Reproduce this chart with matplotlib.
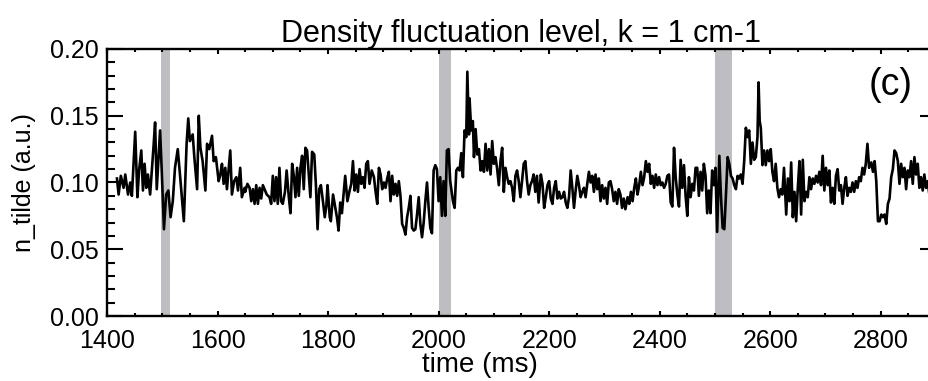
import matplotlib
matplotlib.use("Agg")
import matplotlib.pyplot as plt
from matplotlib.ticker import MultipleLocator

plt.rcParams['font.family'] = ['Liberation Sans', 'DejaVu Sans']

# time (ms) and fluctuation level
t_ms = [1418, 1421, 1425, 1430, 1433, 1438, 1442, 1445, 1451, 1455, 1458, 1462, 1465, 1468,
        1471, 1474, 1478, 1484, 1487, 1490, 1496, 1499, 1503, 1507, 1511, 1515, 1519, 1523,
        1528, 1532, 1539, 1544, 1547, 1550, 1555, 1558, 1563, 1566, 1569, 1573, 1578, 1581,
        1585, 1590, 1593, 1597, 1602, 1605, 1608, 1611, 1614, 1617, 1623, 1626, 1630, 1634,
        1637, 1641, 1644, 1649,
        1650, 1654, 1658, 1661, 1664, 1667, 1670, 1673, 1676, 1679, 1682, 1685, 1689, 1694,
        1697, 1700, 1703, 1706, 1709, 1712, 1715, 1718, 1722, 1725, 1729, 1732, 1735, 1738,
        1741, 1744, 1747, 1750, 1753, 1756, 1759, 1762, 1765, 1768, 1771, 1775, 1778, 1781,
        1784, 1787, 1791, 1794, 1797, 1799, 1803, 1805, 1809, 1813, 1816, 1819, 1822, 1825,
        1828, 1831, 1835, 1839, 1842, 1845, 1848, 1851, 1854, 1857, 1860, 1863, 1866, 1869,
        1872, 1875, 1879, 1883, 1886, 1889, 1892, 1895,
        1898, 1901, 1904, 1907, 1910, 1913, 1916, 1919, 1922, 1925, 1928, 1931, 1934, 1937,
        1940, 1943, 1946, 1949, 1952, 1955, 1958, 1961, 1964, 1967, 1970, 1973, 1976, 1979,
        1982, 1985, 1988, 1991, 1994, 1997, 2000, 2003, 2006, 2009, 2012, 2015, 2018, 2021,
        2026, 2029, 2032, 2035, 2038, 2041, 2044, 2047, 2050, 2052, 2055, 2056, 2059, 2062,
        2064, 2067, 2070, 2073, 2076, 2079, 2082, 2085, 2088, 2091, 2094, 2097, 2100, 2103,
        2106, 2109, 2112, 2115, 2118, 2121, 2124, 2127, 2130, 2133, 2136,
        2139, 2142, 2145, 2148, 2151, 2154, 2157, 2160, 2163, 2166, 2169, 2172, 2175, 2178,
        2181, 2185, 2188, 2191, 2194, 2197, 2200, 2203, 2206, 2209, 2212, 2215, 2218, 2221,
        2224, 2227, 2230, 2233, 2236, 2239, 2242, 2245, 2248, 2251, 2254, 2257, 2260, 2263,
        2266, 2269, 2272, 2275, 2278, 2281, 2284, 2287, 2290, 2293, 2296, 2299, 2302, 2305,
        2308, 2311, 2314, 2317, 2320, 2323, 2326, 2329, 2332, 2335, 2338, 2342, 2345, 2348,
        2351, 2354, 2357, 2360, 2363, 2366, 2369, 2372, 2375, 2378, 2381, 2384,
        2387, 2390, 2393, 2396, 2399, 2402, 2405, 2408, 2411, 2414, 2417, 2420, 2423, 2426,
        2429, 2432, 2435, 2438, 2441, 2444, 2447, 2450, 2453, 2456, 2459, 2462, 2465, 2468,
        2471, 2474, 2477, 2480, 2483, 2486, 2489, 2492, 2495, 2498, 2501, 2504, 2508, 2511,
        2514, 2517, 2520, 2523, 2526, 2529, 2532, 2535, 2538, 2541, 2544, 2547, 2550, 2553,
        2556, 2559, 2562, 2565, 2568, 2571, 2574, 2577, 2579, 2581, 2583, 2586, 2589, 2592,
        2595, 2598, 2601, 2604, 2607, 2610, 2613, 2616, 2619, 2622, 2625,
        2629, 2632, 2635, 2638, 2641, 2644, 2647, 2650, 2653, 2656, 2659, 2662, 2665, 2668,
        2671, 2674, 2677, 2680, 2683, 2686, 2689, 2692, 2695, 2698, 2701, 2704, 2707, 2710,
        2713, 2716, 2719, 2722, 2725, 2728, 2731, 2734, 2737, 2740, 2743, 2746, 2749, 2752,
        2755, 2758, 2761, 2764, 2767, 2770, 2773, 2776, 2779, 2783, 2786, 2789, 2792, 2795,
        2798, 2801, 2804, 2807, 2810, 2813, 2816, 2819, 2822, 2825, 2828, 2831, 2834, 2837,
        2840, 2843, 2846, 2849, 2852, 2855, 2858, 2861, 2864, 2867, 2870, 2873, 2876, 2879,
        2882, 2885, 2888]

n_tilde = [0.103, 0.091, 0.105, 0.096, 0.106, 0.091, 0.100, 0.090, 0.138, 0.089, 0.109, 0.124,
           0.094, 0.114, 0.096, 0.106, 0.091, 0.126, 0.145, 0.095, 0.139, 0.109, 0.065, 0.091,
           0.094, 0.074, 0.086, 0.111, 0.125, 0.106, 0.071, 0.129, 0.148, 0.131, 0.136, 0.119,
           0.095, 0.150, 0.126, 0.116, 0.094, 0.129, 0.125, 0.135, 0.116, 0.119, 0.101, 0.106,
           0.114, 0.099, 0.111, 0.095, 0.124, 0.091, 0.101, 0.104, 0.094, 0.111, 0.089, 0.096,
           0.093, 0.099, 0.096, 0.086, 0.095, 0.084, 0.098, 0.084, 0.096, 0.088, 0.098, 0.095,
           0.091, 0.089, 0.084, 0.105, 0.086, 0.104, 0.084, 0.111, 0.086, 0.084, 0.093, 0.109,
           0.089, 0.077, 0.114, 0.105, 0.089, 0.111, 0.090, 0.111, 0.120, 0.095, 0.126, 0.124,
           0.107, 0.089, 0.123, 0.121, 0.098, 0.065, 0.095, 0.098, 0.085, 0.074, 0.083, 0.098,
           0.074, 0.071, 0.091, 0.081, 0.074, 0.064, 0.085, 0.077, 0.091, 0.105, 0.086, 0.094,
           0.099, 0.116, 0.094, 0.106, 0.093, 0.110, 0.099, 0.104, 0.096, 0.114, 0.116, 0.099,
           0.109, 0.104, 0.093, 0.084, 0.111, 0.106,
           0.095, 0.100, 0.096, 0.103, 0.108, 0.086, 0.105, 0.091, 0.099, 0.090, 0.101, 0.090,
           0.069, 0.066, 0.061, 0.074, 0.081, 0.090, 0.066, 0.064, 0.065, 0.076, 0.089, 0.069,
           0.059, 0.070, 0.086, 0.100, 0.081, 0.066, 0.062, 0.109, 0.113, 0.110, 0.086, 0.104,
           0.075, 0.101, 0.075, 0.124, 0.125, 0.101, 0.086, 0.081, 0.109, 0.111, 0.109, 0.122,
           0.104, 0.139, 0.134, 0.183, 0.136, 0.163, 0.139, 0.146, 0.119, 0.140, 0.121, 0.125,
           0.109, 0.116, 0.108, 0.129, 0.109, 0.125, 0.106, 0.131, 0.114, 0.119, 0.110, 0.098,
           0.116, 0.126, 0.093, 0.111, 0.104, 0.099, 0.101, 0.096, 0.086,
           0.105, 0.109, 0.101, 0.089, 0.101, 0.114, 0.116, 0.101, 0.091, 0.098, 0.101, 0.106,
           0.093, 0.105, 0.085, 0.106, 0.099, 0.081, 0.089, 0.098, 0.101, 0.088, 0.084, 0.096,
           0.101, 0.088, 0.093, 0.088, 0.089, 0.093, 0.085, 0.081, 0.089, 0.109, 0.096, 0.081,
           0.094, 0.105, 0.098, 0.089, 0.093, 0.096, 0.089, 0.099, 0.108, 0.100, 0.105, 0.093,
           0.106, 0.095, 0.103, 0.086, 0.098, 0.088, 0.096, 0.084, 0.100, 0.101, 0.095, 0.086,
           0.093, 0.084, 0.095, 0.091, 0.081, 0.088, 0.080, 0.089, 0.084, 0.093, 0.086, 0.096,
           0.103, 0.091, 0.098, 0.108, 0.098, 0.104, 0.116, 0.108, 0.114, 0.099,
           0.105, 0.096, 0.106, 0.098, 0.104, 0.098, 0.100, 0.096, 0.099, 0.105, 0.106, 0.085,
           0.082, 0.126, 0.104, 0.091, 0.082, 0.117, 0.096, 0.113, 0.090, 0.075, 0.104, 0.089,
           0.099, 0.094, 0.111, 0.111, 0.090, 0.108, 0.094, 0.114, 0.105, 0.077, 0.094, 0.077,
           0.109, 0.098, 0.111, 0.063, 0.120, 0.089, 0.066, 0.065, 0.091, 0.119, 0.114, 0.105,
           0.103, 0.098, 0.095, 0.105, 0.103, 0.106, 0.099, 0.116, 0.141, 0.134, 0.139, 0.114,
           0.130, 0.117, 0.119, 0.134, 0.175, 0.146, 0.141, 0.113, 0.124, 0.113, 0.124, 0.116,
           0.125, 0.108, 0.101, 0.114, 0.096, 0.089, 0.095, 0.091, 0.111,
           0.076, 0.103, 0.086, 0.115, 0.074, 0.093, 0.071, 0.096, 0.116, 0.076, 0.117, 0.086,
           0.093, 0.089, 0.104, 0.095, 0.103, 0.099, 0.105, 0.100, 0.108, 0.098, 0.120, 0.094,
           0.111, 0.098, 0.109, 0.085, 0.096, 0.084, 0.105, 0.110, 0.094, 0.098, 0.084, 0.096,
           0.104, 0.090, 0.096, 0.093, 0.100, 0.093, 0.101, 0.096, 0.104, 0.101, 0.111, 0.106,
           0.114, 0.129, 0.111, 0.115, 0.108, 0.116, 0.101, 0.071, 0.071, 0.076, 0.074, 0.076,
           0.069, 0.084, 0.088, 0.104, 0.110, 0.124, 0.122, 0.116, 0.099, 0.114, 0.104, 0.111,
           0.095, 0.109, 0.104, 0.116, 0.099, 0.119, 0.106, 0.114, 0.096, 0.104, 0.094, 0.106,
           0.096, 0.101, 0.091]

# shaded time windows (ms)
band_start = [1498, 2000, 2500]
band_end = [1514, 2022, 2531]

fig = plt.figure(figsize=(9.29, 3.81), dpi=100)
ax = fig.add_axes([0.1152, 0.1706, 0.8923, 0.7008])

for b0, b1 in zip(band_start, band_end):
    ax.axvspan(b0, b1, color='#bdbdc2', lw=0, zorder=1)

ax.plot(t_ms, n_tilde, color='black', lw=1.9, zorder=3)

ax.set_xlim(1400, 2900)
ax.set_ylim(0, 0.2)
ax.xaxis.set_major_locator(MultipleLocator(200))
ax.xaxis.set_minor_locator(MultipleLocator(50))
ax.yaxis.set_major_locator(MultipleLocator(0.05))
ax.yaxis.set_minor_locator(MultipleLocator(0.01))
ax.yaxis.set_major_formatter(plt.FormatStrFormatter('%.2f'))

for s in ax.spines.values():
    s.set_linewidth(1.7)
ax.tick_params(axis='both', which='both', direction='in', top=True, right=True,
               width=1.5, labelsize=18)
ax.tick_params(axis='x', which='major', length=3.8, pad=9)
ax.tick_params(axis='x', which='minor', length=2)
ax.tick_params(axis='y', which='major', length=11.5, pad=6)
ax.tick_params(axis='y', which='minor', length=5.8)

ax.set_title('Density fluctuation level, k = 1 cm-1', fontsize=22, pad=4)
fig.text(480 / 929, 1 - 365 / 381, 'time (ms)', fontsize=20, ha='center', va='center')
ax.set_ylabel('n_tilde (a.u.)', fontsize=18, labelpad=10)
ax.text(0.972, 0.865, '(c)', transform=ax.transAxes, fontsize=27,
        ha='right', va='center')

fig.savefig('out.png', dpi=100)
